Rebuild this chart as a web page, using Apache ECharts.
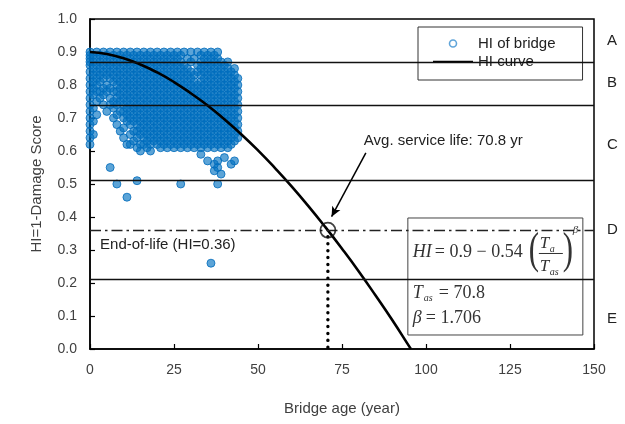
<!DOCTYPE html>
<html><head><meta charset="utf-8">
<script src="https://cdn.jsdelivr.net/npm/echarts@6/dist/echarts.min.js"></script>
<style>html,body{margin:0;padding:0;background:#fff}#c{width:625px;height:424px}</style>
</head><body><div id="c"></div>
<script>
// ---- data ----
const xTicks = [0, 25, 50, 75, 100, 125, 150];
const yTicks = [0, 0.1, 0.2, 0.3, 0.4, 0.5, 0.6, 0.7, 0.8, 0.9, 1.0];
const bridgeAges = [0,1,2,3,4,5,6,7,8,9,10,11,12,13,14,15,16,17,18,19,20,21,22,23,24,25,26,27,28,29,30,31,32,33,34,35,36,37,38,39,40,41,42,43,44];
// HI x 100, one list per bridge age
const bridgeHI = [
 [90,89,88,87,86,84,82,80,78,76,74,72,70,68,66,64,62],
 [89,87,85,83,81,79,77,73,69,65],
 [90,88,86,84,82,80,78,75,71],
 [89,87,85,83,81,78,76],
 [90,88,86,84,82,79,77,74],
 [89,87,85,83,80,78,72],
 [90,88,86,84,82,79,76,74,55],
 [89,87,85,83,81,78,75,73,70],
 [90,88,86,84,82,80,78,76,74,71,68,50],
 [89,87,85,83,81,79,77,75,72,66],
 [90,88,86,84,82,80,78,76,74,72,70,67,64],
 [89,87,85,83,81,79,77,75,73,71,69,62,46],
 [90,88,86,84,82,80,78,76,74,72,70,68,65,62],
 [89,87,85,83,81,79,77,75,73,71,69,66,63],
 [90,88,86,84,82,80,78,76,74,72,70,68,66,64,61,51],
 [89,87,85,83,81,79,77,75,73,71,69,67,65,62,60],
 [90,88,86,84,82,80,78,76,74,72,70,68,66,64,62],
 [89,87,85,83,81,79,77,75,73,71,69,67,65,63,61],
 [90,88,86,84,82,80,78,76,74,72,70,68,66,64,62,60],
 [89,87,85,83,81,79,77,75,73,71,69,67,65,63],
 [90,88,86,84,82,80,78,76,74,72,70,68,66,64,62],
 [89,87,85,83,81,79,77,75,73,71,69,67,65,63,61],
 [90,88,86,84,82,80,78,76,74,72,70,68,66,64,62],
 [89,87,85,83,81,79,77,75,73,71,69,67,65,63,61],
 [90,88,86,84,82,80,78,76,74,72,70,68,66,64,62],
 [89,87,85,83,81,79,77,75,73,71,69,67,65,63,61],
 [90,88,86,84,82,80,78,76,74,72,70,68,66,64,62],
 [89,87,85,83,81,79,77,75,73,71,69,67,65,63,61,50],
 [90,86,84,82,80,78,76,74,72,70,68,66,64,62],
 [88,85,83,81,79,77,75,73,71,69,67,65,63,61],
 [90,87,84,82,80,78,76,74,72,70,68,66,64,62],
 [88,83,81,79,77,75,73,71,69,67,65,63,61],
 [90,86,84,80,78,76,74,72,70,68,66,64,62],
 [89,87,85,83,81,79,77,75,73,71,69,67,65,63,61,59],
 [90,88,86,84,82,80,78,76,74,72,70,68,66,64,62],
 [89,87,85,83,81,79,77,75,73,71,69,67,65,63,61,57],
 [90,88,86,84,82,80,78,76,74,72,70,68,66,64,62,26],
 [89,87,85,83,81,79,77,75,73,71,69,67,65,63,61,56,54],
 [90,88,86,84,82,80,78,76,74,72,70,68,66,64,62,57,55,50],
 [87,85,83,81,79,77,75,73,71,69,67,65,63,61,53],
 [86,84,82,80,78,76,74,72,70,68,66,64,62,58],
 [87,85,83,81,79,77,75,73,71,69,67,65,63,61],
 [84,82,80,78,76,74,72,70,68,66,64,62,56],
 [85,83,81,79,77,75,73,71,69,67,65,63,57],
 [82,80,78,76,74,72,70,68,66,64]
];
const curveAge = [0,5,10,15,20,25,30,35,40,45,50,55,60,65,70,75,80,85,90,95,95.5];
const curveHI = [0.900,0.894,0.881,0.862,0.838,0.809,0.775,0.738,0.696,0.651,0.602,0.549,0.493,0.433,0.370,0.304,0.235,0.162,0.087,0.008,0.0];
const gradeBounds = [0.87, 0.74, 0.51, 0.21];
const endOfLifeHI = 0.36;
const avgLife = 70.8;
const gradeLabels = ['A','B','C','D','E'];
const gradeLabelHI = [0.935, 0.805, 0.62, 0.36, 0.09];
const arrowFrom = [82.1, 0.594];
const arrowTo = [71.9, 0.401];

// ---- build ----
const scatterData = [];
bridgeAges.forEach((a, i) => bridgeHI[i].forEach(h => scatterData.push([a, h / 100])));
const curveData = curveAge.map((a, i) => [a, curveHI[i]]);

const FONT = 'Arial, "Liberation Sans", sans-serif';
const SERIF = '"Liberation Serif", "DejaVu Serif", serif';
const chart = echarts.init(document.getElementById('c'), null, {renderer: 'canvas'});

chart.setOption({
  animation: false,
  textStyle: {fontFamily: FONT},
  grid: {left: 90, right: 31, top: 19, bottom: 75, show: true, borderColor: '#000', borderWidth: 1.5},
  xAxis: {
    type: 'value', min: xTicks[0], max: xTicks[xTicks.length - 1], interval: 25,
    name: 'Bridge age (year)', nameLocation: 'middle', nameGap: 52,
    nameTextStyle: {fontSize: 15, color: '#404040', fontFamily: FONT},
    axisLine: {lineStyle: {color: '#000', width: 1.5}},
    axisTick: {inside: true, length: 5, lineStyle: {color: '#000', width: 1.2}},
    axisLabel: {fontSize: 14, color: '#404040', margin: 14, fontFamily: FONT},
    splitLine: {show: false}
  },
  yAxis: {
    type: 'value', min: yTicks[0], max: yTicks[yTicks.length - 1], interval: 0.1,
    name: 'HI=1-Damage Score', nameLocation: 'middle', nameGap: 46,
    nameTextStyle: {fontSize: 15, color: '#404040', fontFamily: FONT},
    axisLine: {lineStyle: {color: '#000', width: 1.5}},
    axisTick: {inside: true, length: 5, lineStyle: {color: '#000', width: 1.2}},
    axisLabel: {fontSize: 14, color: '#404040', margin: 13, fontFamily: FONT, formatter: v => v.toFixed(1)},
    splitLine: {show: false}
  },
  legend: {
    data: [
      {name: 'HI of bridge', icon: 'circle', itemStyle: {color: '#fff', borderColor: '#3a8fd0', borderWidth: 1.6}},
      {name: 'HI curve', icon: 'path://M0,0H40V1.5H0Z'}
    ],
    orient: 'vertical', left: 418, top: 27, itemWidth: 40, itemHeight: 7, itemGap: 3,
    padding: [9, 27, 11, 15], backgroundColor: '#fff', borderColor: '#333', borderWidth: 1,
    textStyle: {fontSize: 15, color: '#222', fontFamily: FONT}, selectedMode: false
  },
  series: [
    {
      name: 'grades', type: 'line', data: [], z: 1, silent: true,
      markLine: {
        silent: true, symbol: 'none', label: {show: false}, animation: false,
        data: gradeBounds.map(v => ({yAxis: v, lineStyle: {color: '#111', width: 1.4, type: 'solid'}}))
          .concat([{yAxis: endOfLifeHI, lineStyle: {color: '#222', width: 1.4, type: [11, 4, 2.5, 4]}}])
      }
    },
    {
      name: 'HI of bridge', type: 'scatter', data: scatterData, z: 2,
      symbol: 'circle', symbolSize: 8,
      itemStyle: {color: 'rgba(0,112,192,0.8)', borderColor: 'rgba(0,108,188,1)', borderWidth: 1}
    },
    {
      name: 'HI curve', type: 'line', data: curveData, z: 3, smooth: true, showSymbol: false,
      lineStyle: {color: '#000', width: 2.6}, itemStyle: {color: '#000'}
    },
    {
      name: 'life', type: 'line', z: 4, showSymbol: false,
      data: [[avgLife, endOfLifeHI - 0.02], [avgLife, 0]],
      lineStyle: {color: '#000', width: 3.4, type: [0.1, 6.8], cap: 'round'},
      markLine: {
        silent: true, symbol: ['none', 'arrow'], symbolSize: [7, 10], label: {show: false},
        lineStyle: {color: '#000', width: 1.5, type: 'solid'},
        data: [[{coord: arrowFrom}, {coord: arrowTo}]]
      }
    },
    {
      name: 'eol', type: 'scatter', z: 5, data: [[avgLife, endOfLifeHI]],
      symbol: 'circle', symbolSize: 15,
      itemStyle: {color: 'rgba(0,0,0,0)', borderColor: '#111', borderWidth: 1.8}
    }
  ]
});

// ---- annotations positioned through the axes ----
const P = (x, y) => chart.convertToPixel({xAxisIndex: 0, yAxisIndex: 0}, [x, y]);
const right = P(150, 0)[0];
const g = [];
gradeLabels.forEach((t, i) => {
  g.push({type: 'text', x: right + 13, y: P(0, gradeLabelHI[i])[1], z: 50,
    style: {text: t, font: '15px ' + FONT, fill: '#222', verticalAlign: 'middle', align: 'left'}});
});
const eolPos = P(3, 0.315);
g.push({type: 'text', x: eolPos[0], y: eolPos[1], z: 50,
  style: {text: 'End-of-life (HI=0.36)', font: '15px ' + FONT, fill: '#222', verticalAlign: 'middle'}});
const avgPos = P(81.5, 0.63);
g.push({type: 'text', x: avgPos[0], y: avgPos[1], z: 50,
  style: {text: 'Avg. service life: 70.8 yr', font: '15px ' + FONT, fill: '#222', verticalAlign: 'middle'}});

// equation box
const bo = P(94.6, 0.397);
const it = (s) => 'italic ' + s + 'px ' + SERIF;
const rm = (s) => s + 'px ' + SERIF;
const txt = (x, y, t, font, extra) => Object.assign({type: 'text', x: x, y: y,
  style: {text: t, font: font, fill: '#333', verticalAlign: 'middle', align: 'left'}}, extra || {});
g.push({
  type: 'group', x: bo[0], y: bo[1], z: 60,
  children: [
    {type: 'rect', shape: {x: 0, y: 0, width: 175, height: 117}, style: {fill: '#fff', stroke: '#444', lineWidth: 1}},
    txt(5, 34, 'HI', it(18)),
    txt(27, 34, '= 0.9 − 0.54', rm(18)),
    txt(121, 33, '(', '100 44px ' + SERIF, {scaleX: 0.7}),
    txt(132, 26, 'T', it(17)),
    txt(142, 31, 'a', it(10)),
    {type: 'line', shape: {x1: 131, y1: 35.5, x2: 155, y2: 35.5}, style: {stroke: '#333', lineWidth: 1}},
    txt(132, 49, 'T', it(17)),
    txt(142, 54, 'as', it(10)),
    txt(155, 33, ')', '100 44px ' + SERIF, {scaleX: 0.7}),
    txt(165, 12, 'β', it(11)),
    txt(5, 75, 'T', it(18)),
    txt(16, 80, 'as', it(10)),
    txt(31, 75, '= 70.8', rm(18)),
    txt(5, 100, 'β', it(18)),
    txt(18, 100, '= 1.706', rm(18))
  ]
});
chart.setOption({graphic: g});
</script>
</body></html>
